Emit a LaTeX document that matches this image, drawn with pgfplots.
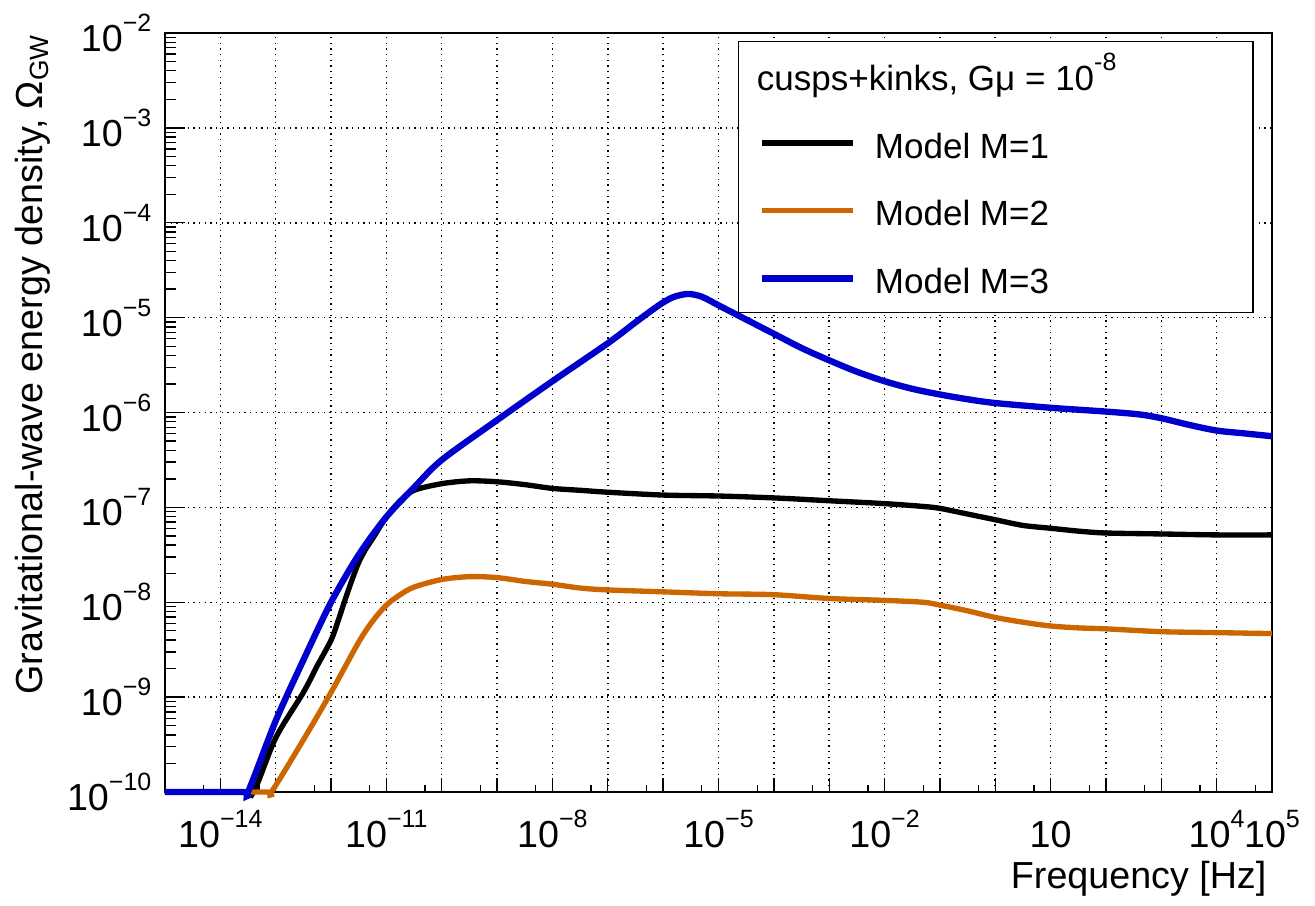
\documentclass[border=0pt]{standalone}
\usepackage{fontspec}
\setmainfont{Liberation Sans}
\usepackage{pgfplots}
\pgfplotsset{compat=1.18}
\definecolor{mblue}{RGB}{0,0,204}
\definecolor{morange}{RGB}{204,102,0}
\newcommand{\tp}[1]{10\raisebox{6pt}{\fontsize{7.5}{8}\selectfont #1}}
\begin{document}
\begin{tikzpicture}
\useasboundingbox (0,0) rectangle (394.5pt,271.5pt);
\begin{axis}[
  at={(49.5pt,33.9pt)}, anchor=south west,
  scale only axis, width=332.1pt, height=227.7pt,
  xmode=log, ymode=log,
  xmin=1e-15, xmax=1e5, ymin=1e-10, ymax=1e-2,
  clip=false,
  axis line style={line width=0.4pt},
  tick align=inside, tick pos=left,
  every tick/.style={black, line width=0.4pt},
  major tick length=6pt, minor tick length=3.3pt,
  xtick style={/pgfplots/major tick length=4.2pt, /pgfplots/minor tick length=2.1pt},
  xtick={1e-15,1e-14,1e-13,1e-12,1e-11,1e-10,1e-9,1e-8,1e-7,1e-6,1e-5,1e-4,1e-3,1e-2,1e-1,1,1e1,1e2,1e3,1e4,1e5},
  xticklabels={{},\tp{−14},{},{},\tp{−11},{},{},\tp{−8},{},{},\tp{−5},{},{},\tp{−2},{},{},10,{},{},\tp{4},\tp{5}},
  minor xtick={5e-15,5e-14,5e-13,5e-12,5e-11,5e-10,5e-9,5e-8,5e-7,5e-6,5e-5,5e-4,5e-3,5e-2,5e-1,5,5e1,5e2,5e3,5e4},
  ytick={1e-10,1e-9,1e-8,1e-7,1e-6,1e-5,1e-4,1e-3,1e-2},
  yticklabels={\tp{−10},\tp{−9},\tp{−8},\tp{−7},\tp{−6},\tp{−5},\tp{−4},\tp{−3},\tp{−2}},
  minor ytick={2e-10,3e-10,4e-10,5e-10,6e-10,7e-10,8e-10,9e-10,
               2e-9,3e-9,4e-9,5e-9,6e-9,7e-9,8e-9,9e-9,
               2e-8,3e-8,4e-8,5e-8,6e-8,7e-8,8e-8,9e-8,
               2e-7,3e-7,4e-7,5e-7,6e-7,7e-7,8e-7,9e-7,
               2e-6,3e-6,4e-6,5e-6,6e-6,7e-6,8e-6,9e-6,
               2e-5,3e-5,4e-5,5e-5,6e-5,7e-5,8e-5,9e-5,
               2e-4,3e-4,4e-4,5e-4,6e-4,7e-4,8e-4,9e-4,
               2e-3,3e-3,4e-3,5e-3,6e-3,7e-3,8e-3,9e-3},
  tick label style={font=\fontsize{11.3}{13}\selectfont, inner sep=0pt},
  xticklabel style={anchor=base, yshift=-16.5pt},
  yticklabel style={anchor=east, xshift=-3.9pt},
  grid=major,
  major grid style={black, line width=0.45pt, dash pattern=on 0.45pt off 1.25pt},
  xlabel={Frequency [Hz]},
  ylabel={Gravitational-wave energy density, Ω\textsubscript{GW}},
  every axis x label/.style={at={(axis description cs:0.9955,-0.1265)}, anchor=base east,
    font=\fontsize{11.3}{13}\selectfont, inner sep=0pt},
  every axis y label/.style={at={(axis description cs:-0.1102,1.0)}, rotate=90, anchor=base east,
    font=\fontsize{11.3}{13}\selectfont, inner sep=0pt},
  legend image code/.code={\draw[#1] (0pt,0pt) -- (27.3pt,0pt);},
  legend cell align=left,
  legend style={at={(axis description cs:0.5176,0.9895)}, anchor=north west,
    draw=black, line width=0.4pt, fill=white,
    inner xsep=6pt, inner ysep=0pt, row sep=0pt, column sep=5.7pt,
    font=\fontsize{10.5}{12}\selectfont,
    nodes={inner sep=0pt, text height=14.7pt, text depth=5.6pt}},
]
\addlegendimage{empty legend}
\addlegendentry{\makebox[107.4pt][l]{\hspace*{-35.4pt}cusps+kinks, Gμ = 10\raisebox{6pt}{\fontsize{7.5}{8}\selectfont -8}}}

\addplot[black, line width=1.6pt, smooth, tension=0.5] coordinates {
(1e-15,1e-10) (2.512e-14,1e-10) (3.981e-14,1e-10)
(1e-13,3.715e-10) (3.162e-13,1.122e-9) (5.623e-13,2.138e-9) (1e-12,3.981e-9)
(1.334e-12,6.310e-9) (1.778e-12,1.047e-8) (2.371e-12,1.698e-8) (3.162e-12,2.630e-8)
(4.217e-12,3.631e-8) (5.623e-12,4.677e-8) (1e-11,7.943e-8) (1.778e-11,1.175e-7)
(3.162e-11,1.514e-7) (1e-10,1.778e-7) (3.162e-10,1.905e-7) (1e-9,1.862e-7)
(3.162e-9,1.738e-7) (1e-8,1.585e-7) (3.162e-8,1.514e-7) (1e-7,1.445e-7)
(1e-6,1.349e-7) (1e-5,1.318e-7) (1e-4,1.259e-7) (1e-3,1.175e-7) (1e-2,1.096e-7)
(5.012e-2,1.023e-7) (0.1,9.772e-8) (0.3162,8.511e-8) (1,7.413e-8) (3.162,6.457e-8)
(10,6.026e-8) (31.62,5.623e-8) (100,5.370e-8) (1000,5.248e-8) (1e4,5.129e-8) (1e5,5.129e-8)
};
\addlegendentry{\makebox[107.4pt][l]{Model M=1}}

\addplot[morange, line width=1.6pt, smooth, tension=0.5] coordinates {
(1e-15,1e-10) (6.310e-14,1e-10) (8.318e-14,1e-10)
(3.162e-13,3.548e-10) (1e-12,1.122e-9) (3.162e-12,3.802e-9) (5.623e-12,6.310e-9)
(1e-11,9.333e-9) (1.778e-11,1.202e-8) (3.162e-11,1.445e-8) (1e-10,1.738e-8)
(3.162e-10,1.862e-8) (1e-9,1.820e-8) (3.162e-9,1.660e-8) (1e-8,1.549e-8)
(3.162e-8,1.413e-8) (1e-7,1.349e-8) (1e-6,1.288e-8) (1e-5,1.230e-8) (1e-4,1.202e-8)
(1e-3,1.096e-8) (1e-2,1.047e-8) (5.012e-2,1e-8) (0.1,9.333e-9) (0.3162,8.128e-9)
(1,6.918e-9) (3.162,6.166e-9) (10,5.623e-9) (31.62,5.370e-9) (100,5.248e-9)
(1000,4.898e-9) (1e4,4.786e-9) (1e5,4.677e-9)
};
\addlegendentry{\makebox[107.4pt][l]{Model M=2}}

\addplot[mblue, line width=1.9pt, smooth, tension=0.5] coordinates {
(1e-15,1e-10) (2.512e-14,1e-10) (3.162e-14,1e-10)
(1e-13,5.623e-10) (3.162e-13,2.455e-9) (1e-12,1e-8) (3.162e-12,3.162e-8)
(1e-11,7.943e-8) (3.162e-11,1.622e-7) (1e-10,3.162e-7) (1e-9,8.318e-7)
(1e-8,2.138e-6) (1e-7,5.370e-6) (3.162e-7,8.913e-6) (6.310e-7,1.202e-5)
(1e-6,1.445e-5) (1.585e-6,1.660e-5) (2.818e-6,1.778e-5) (5.012e-6,1.660e-5)
(1e-5,1.349e-5) (2.512e-5,1.023e-5) (1e-4,6.761e-6) (3.162e-4,4.786e-6)
(1e-3,3.548e-6) (3.162e-3,2.692e-6) (1e-2,2.138e-6) (3.162e-2,1.778e-6)
(0.1,1.549e-6) (0.3162,1.380e-6) (1,1.259e-6) (10,1.122e-6) (100,1.023e-6)
(398.1,9.550e-7) (1000,8.710e-7) (3162,7.413e-7) (1e4,6.457e-7) (31623,6.026e-7) (1e5,5.623e-7)
};
\addlegendentry{\makebox[107.4pt][l]{Model M=3}}
\end{axis}
\end{tikzpicture}
\end{document}
